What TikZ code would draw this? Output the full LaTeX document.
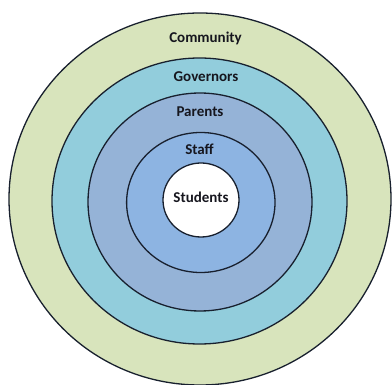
\documentclass[tikz,border=0pt]{standalone}
\usepackage{fontspec}
\setmainfont{Carlito}
\definecolor{ringCommunity}{HTML}{D8E4BC}
\definecolor{ringGovernors}{HTML}{92CDDC}
\definecolor{ringParents}{HTML}{95B3D7}
\definecolor{ringStaff}{HTML}{8DB4E2}
\definecolor{ringline}{HTML}{18202E}
\definecolor{labeltext}{HTML}{16161E}
\begin{document}
\begin{tikzpicture}[x=1pt,y=-1pt,
  ring/.style={draw=ringline,line width=1.3pt},
  ringlabel/.style={anchor=base,inner sep=0pt,text=labeltext,
    font=\fontsize{15}{18}\selectfont\bfseries}]
\useasboundingbox (0,0) rectangle (392,385);
\fill[white] (0,0) rectangle (392,385);
% nested rings, outermost first
\draw[ring,fill=ringCommunity] (200,199) ellipse [x radius=191,y radius=186];
\draw[ring,fill=ringGovernors] (199.5,201) ellipse [x radius=147.5,y radius=143];
\draw[ring,fill=ringParents]   (200,202) ellipse [x radius=112,y radius=109];
\draw[ring,fill=ringStaff]     (200.8,202.5) ellipse [x radius=74.2,y radius=70];
\draw[ring,fill=white]         (201,200) ellipse [x radius=38,y radius=37];
% ring labels
\node[ringlabel] (community) at (205.5,42.5)  {Community};
\node[ringlabel] (governors) at (206,81.5)    {Governors};
\node[ringlabel] (parents)   at (200,116.5)   {Parents};
\node[ringlabel] (staff)     at (199.5,154.8) {Staff};
\node[ringlabel] (students)  at (201,203)     {Students};
\end{tikzpicture}
\end{document}
